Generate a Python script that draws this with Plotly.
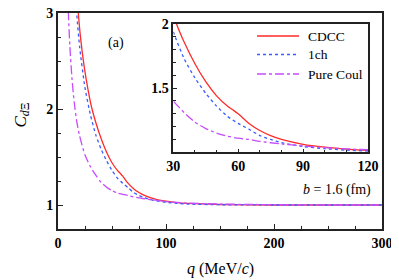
import plotly.graph_objects as go

# CDCC (red, solid)
q_cdcc = [15, 17, 18.8, 21, 24.5, 28, 31.5, 35, 40, 45, 50, 55, 58, 60, 65, 70, 75, 80, 90, 100, 110, 120, 150, 200, 250, 300]
c_cdcc = [3.68, 3.28, 3.0, 2.73, 2.42, 2.19, 2.0, 1.86, 1.69, 1.55, 1.44, 1.36, 1.325, 1.30, 1.225, 1.17, 1.13, 1.10, 1.062, 1.04, 1.025, 1.016, 1.005, 1.0, 1.0, 1.0]
# 1ch (blue, dotted)
q_1ch = [15, 17.3, 20, 25, 30, 35, 40, 45, 50, 55, 60, 65, 70, 75, 80, 90, 100, 110, 120, 150, 200, 250, 300]
c_1ch = [3.41, 3.0, 2.65, 2.22, 1.94, 1.73, 1.58, 1.46, 1.36, 1.28, 1.225, 1.18, 1.13, 1.10, 1.075, 1.045, 1.028, 1.017, 1.01, 1.003, 1.0, 1.0, 1.0]
# Pure Coulomb (magenta, dash-dot)
q_coul = [8, 9.6, 11, 13, 15, 17.5, 20, 25, 30, 35, 40, 45, 50, 55, 60, 65, 70, 80, 90, 100, 110, 120, 150, 200, 250, 300]
c_coul = [3.58, 3.0, 2.65, 2.31, 2.07, 1.86, 1.72, 1.52, 1.40, 1.31, 1.235, 1.185, 1.15, 1.125, 1.11, 1.10, 1.085, 1.065, 1.05, 1.036, 1.027, 1.02, 1.01, 1.003, 1.0, 1.0]

main_xticks = [0, 100, 200, 300]
main_yticks = [1, 2, 3]
inset_xticks = [30, 60, 90, 120]
inset_yticks = [1.5, 2]

RED = "#ff2a2a"
BLUE = "#3a5cff"
MAG = "#c64cff"
FONT = "Liberation Serif"

series = [
    ("CDCC", q_cdcc, c_cdcc, RED, "solid"),
    ("1ch", q_1ch, c_1ch, BLUE, "dot"),
    ("Pure Coul", q_coul, c_coul, MAG, "dashdot"),
]

# page body has an 8px margin: figure is drawn 8px right/down
W, H = 391, 272
L, R, T, B = 50, 17, 5, 51
PW, PH = W - L - R, H - T - B


def px(X):  # window pixel x -> paper
    return (X - 8 - L) / PW


def py(Y):  # window pixel y -> paper
    return (H - B - (Y - 8)) / PH


fig = go.Figure()
for name, qx, cy, col, dash in series:
    fig.add_trace(go.Scatter(x=qx, y=cy, mode="lines", name=name, showlegend=False,
                             line=dict(color=col, width=1.3, dash=dash, shape="spline", smoothing=0.6),
                             xaxis="x", yaxis="y"))
for name, qx, cy, col, dash in series:
    fig.add_trace(go.Scatter(x=qx, y=cy, mode="lines", name=name, showlegend=False,
                             line=dict(color=col, width=1.3, dash=dash, shape="spline", smoothing=0.6),
                             xaxis="x2", yaxis="y2"))

tickfont = dict(family=FONT, size=14, color="black", weight="bold")
axcommon = dict(showgrid=False, zeroline=False, showline=True, linecolor="#222", mirror=True,
                ticks="inside", tickcolor="#222", tickfont=tickfont, ticklabeloverflow="allow")

shapes = []
annotations = []
leg_y = [36, 54.5, 74]
for (name, qx, cy, col, dash), yy in zip(series, leg_y):
    shapes.append(dict(type="line", xref="paper", yref="paper", x0=px(257), x1=px(299), y0=py(yy), y1=py(yy),
                       line=dict(color=col, width=1.3, dash=dash)))
    annotations.append(dict(text=name, x=px(306), y=py(yy), xref="paper", yref="paper", xanchor="left",
                            yanchor="middle", showarrow=False, font=dict(family=FONT, size=13.5, color="black")))

annotations += [
    dict(text="(a)", x=px(106), y=py(33), xref="paper", yref="paper", showarrow=False,
         font=dict(family=FONT, size=14, color="black")),
    dict(text="<i>b</i> = 1.6 (fm)", x=px(373), y=py(190), xref="paper", yref="paper",
         xanchor="right", yanchor="middle", showarrow=False,
         font=dict(family=FONT, size=14, color="black")),
    dict(text="<i>q</i> (MeV/<i>c</i>)", x=px(220), y=py(269), xref="paper", yref="paper",
         xanchor="center", yanchor="middle", showarrow=False,
         font=dict(family=FONT, size=16, color="black")),
    dict(text="<i>C</i><sub><i>d</i>Ξ</sub>", x=px(8.5), y=py(115), xref="paper", yref="paper",
         xanchor="left", yanchor="middle", showarrow=False, textangle=-90,
         font=dict(family=FONT, size=17, color="black")),
]

fig.update_layout(
    width=W, height=H,
    margin=dict(l=L, r=R, t=T, b=B, autoexpand=False),
    paper_bgcolor="white", plot_bgcolor="white",
    showlegend=False,
    xaxis=dict(domain=[0, 1], range=[0, 300], tickvals=main_xticks, ticklen=5, tickwidth=1.2, linewidth=2,
               minor=dict(dtick=25, tick0=0, ticklen=3, ticks="inside", tickcolor="#222", tickwidth=1),
               **axcommon),
    yaxis=dict(domain=[0, 1], range=[0.75, 3], tickvals=main_yticks, ticklen=5, tickwidth=1.2, linewidth=2,
               minor=dict(dtick=0.25, tick0=0, ticklen=3, ticks="inside", tickcolor="#222", tickwidth=1),
               **axcommon),
    xaxis2=dict(domain=[px(173.3), px(368)], range=[30, 120], anchor="y2", tickvals=inset_xticks, ticklen=4,
                tickwidth=1.2, linewidth=1.5,
                minor=dict(dtick=10, tick0=0, ticklen=2.5, ticks="inside", tickcolor="#222", tickwidth=1),
                **axcommon),
    yaxis2=dict(domain=[py(152.3), py(24)], range=[1.0, 2.0], anchor="x2", tickvals=inset_yticks, ticklen=4,
                tickwidth=1.2, linewidth=1.5,
                minor=dict(dtick=0.1, tick0=0, ticklen=2.5, ticks="inside", tickcolor="#222", tickwidth=1),
                **axcommon),
    shapes=shapes,
    annotations=annotations,
)

fig.write_html("out.html")
